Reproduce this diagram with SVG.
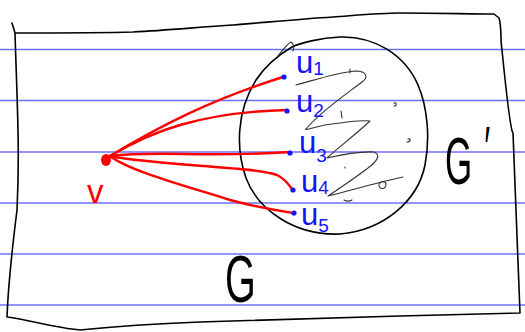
<svg xmlns="http://www.w3.org/2000/svg" width="525" height="332" viewBox="0 0 525 332">
<style>
.rule{stroke:#6f6fff;stroke-width:1.6}
.ink{fill:none;stroke:#000;stroke-width:1.6;stroke-linecap:round;stroke-linejoin:round}
.scrib{fill:none;stroke:#333;stroke-width:1.1;stroke-linecap:round;stroke-linejoin:round}
.edge{fill:none;stroke:#f00;stroke-width:2.4;stroke-linecap:round}
.ulab{font-family:"Liberation Sans",sans-serif;font-size:31px;fill:#1414ff}
.sub{font-size:19px}
.bdot{fill:#1414ff}
.big{font-family:"Liberation Sans",sans-serif;font-size:66px;fill:#000}
</style>
<rect width="525" height="332" fill="#fff"/>
<g id="rules">
<line class="rule" x1="0" y1="49.5" x2="525" y2="49.5"/>
<line class="rule" x1="0" y1="100.5" x2="525" y2="100.5"/>
<line class="rule" x1="0" y1="152" x2="525" y2="152"/>
<line class="rule" x1="0" y1="203" x2="525" y2="203"/>
<line class="rule" x1="0" y1="254" x2="525" y2="254"/>
<line class="rule" x1="0" y1="305" x2="525" y2="305"/>
</g>
<g id="G">
<path class="ink" d="M12,23 L15,33 C60,33 100,33 133,32 C170,30 200,27 233,25 C270,22 300,19 333,17 C360,15 380,13 400,13 C440,13 470,14 494,14 L499,18 C502,28 500,38 502,50 C506,90 510,130 513,133 C516,200 518,260 520,313 C480,314 440,315 400,316 C330,318 260,320 200,322 C150,324 110,327 80,330 C55,328 30,320 7,317 C8,290 12,250 17,210 C20,150 17,100 15,33"/>
<text class="big" transform="translate(225,302) scale(0.6,1)">G</text>
</g>
<g id="Gprime">
<path class="ink" d="M292,47 C300,43 320,38 340,37 C375,36 405,55 418,85 C428,108 430,140 425,165 C418,200 385,230 340,234 C295,236 258,210 246,178 C236,150 236,112 256,80 C266,65 280,54 292,47"/>
<path class="scrib" d="M277,57 C283,50 287,44 291,42 C294,44 294,48 293,51"/>
<path class="scrib" d="M296,85 C315,80 335,73 355,71 C368,71 368,78 362,82 C345,95 320,112 306,129 C303,131 315,127 325,125 C345,122 362,120 370,121 C355,135 338,148 327,158 C340,155 360,151 374,152 C382,155 376,162 368,168 C355,178 340,188 328,196 C345,192 375,183 403,177"/>
<path class="scrib" d="M350,69 L350,73 M341,111 L342,118 M394,103 C397,102 397,106 394,106 M408,139 C411,138 411,142 407,142 M345,167 L345,168 M379,184 C378,190 386,190 386,184 C386,181 380,181 379,184 M344,200 C347,202 350,201 352,200"/>
<text class="big" transform="translate(445,184) scale(0.53,1)">G<tspan x="74" y="-16" font-size="60">′</tspan></text>
</g>
<g id="connectors">
<path class="edge" d="M110,156 C160,126 210,100 283,77"/>
<path class="edge" d="M110,156 C150,132 200,112 287,110"/>
<path class="edge" d="M110,156 C160,150 200,158 290,152"/>
<path class="edge" d="M110,156 C160,166 250,166 277,175 C287,180 290,187 293,190"/>
<path class="edge" d="M110,156 C130,172 200,190 230,200 C260,208 280,211 293,213"/>
</g>
<g id="v">
<ellipse cx="106" cy="160" rx="5" ry="6" fill="#f00"/>
<text x="87" y="203" font-family="Liberation Sans,sans-serif" font-size="33" fill="#f00">v</text>
</g>
<g id="u1"><circle class="bdot" cx="284" cy="77" r="2.6"/><text class="ulab" x="296" y="73">u<tspan class="sub" dy="2">1</tspan></text></g>
<g id="u2"><circle class="bdot" cx="287" cy="111" r="2.6"/><text class="ulab" x="296" y="112">u<tspan class="sub" dy="5">2</tspan></text></g>
<g id="u3"><circle class="bdot" cx="290" cy="153" r="2.6"/><text class="ulab" x="299" y="153">u<tspan class="sub" dy="9">3</tspan></text></g>
<g id="u4"><circle class="bdot" cx="293" cy="190" r="2.6"/><text class="ulab" x="301" y="192">u<tspan class="sub" dy="2">4</tspan></text></g>
<g id="u5"><circle class="bdot" cx="294" cy="213" r="2.6"/><text class="ulab" x="301" y="225">u<tspan class="sub" dy="7">5</tspan></text></g>
</svg>
